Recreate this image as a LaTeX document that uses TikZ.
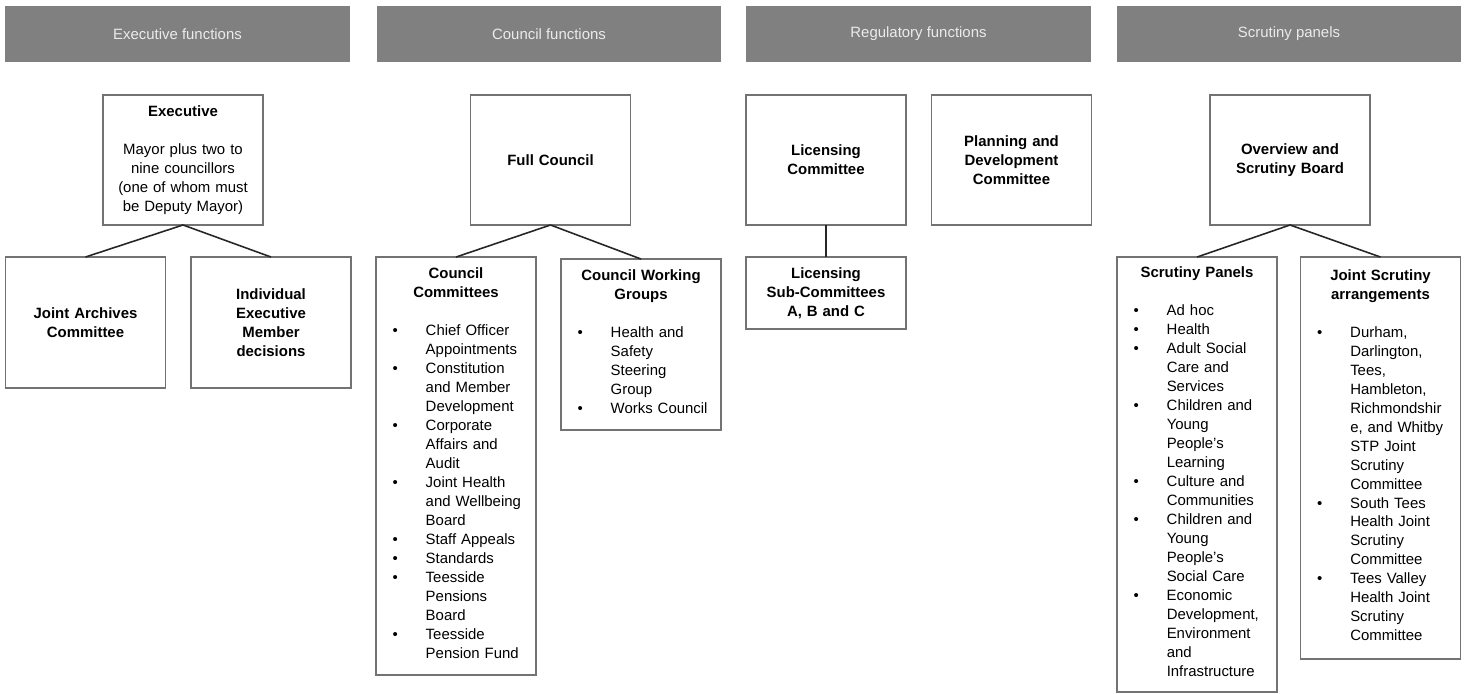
\documentclass[tikz,border=0pt]{standalone}
\usepackage{fontspec}
\setmainfont{Liberation Sans}
\usepackage{tikz}
\colorlet{hdrgray}{black!50}
\colorlet{boxgray}{black!55}
\newcommand{\blist}[1]{\makebox[3.2cm][l]{\begin{tabular}[t]{@{\hspace{0.33cm}}l@{\hspace{0.56cm}}l@{}}#1\end{tabular}}}
\tikzset{
  hdr/.style={fill=hdrgray,text=black!8,minimum width=6.9cm,minimum height=1.12cm,inner sep=0pt,outer sep=0pt,font=\fontsize{8.5}{10.8}\selectfont},
  box/.style={draw=boxgray,line width=0.8pt,fill=white,minimum width=3.2cm,text width=3.2cm,inner xsep=0pt,inner ysep=2pt,outer sep=0pt,align=center,font=\fontsize{8.5}{10.8}\selectfont},
  link/.style={black!85,line width=0.9pt}
}

\begin{document}
\begin{tikzpicture}[x=0.02cm,y=-0.02cm]
        \useasboundingbox (0,0) rectangle (1466,693);
        \node[hdr](hexec) at (177.5,34) {Executive functions};
        \node[hdr](hcoun) at (549,34) {Council functions};
        \node[hdr](hreg) at (918.5,34) {Regulatory functions};
        \node[hdr](hscr) at (1289,34) {Scrutiny panels};

        \node[box,minimum height=2.6cm](exec) at (183,160) {{\bfseries Executive}\\[10.8pt]Mayor plus two to\\nine councillors\\(one of whom must\\be Deputy Mayor)};
        \node[box,minimum height=2.6cm](full) at (550.5,160) {\bfseries Full Council};
        \node[box,minimum height=2.6cm](lic) at (826,160) {\bfseries Licensing\\Committee};
        \node[box,minimum height=2.6cm](plan) at (1011.5,160) {\bfseries Planning and\\Development\\Committee};
        \node[box,minimum height=2.6cm](osb) at (1290,160) {\bfseries Overview and\\Scrutiny Board};

        \node[box,minimum height=2.62cm](jac) at (85.5,322.5) {\bfseries Joint Archives\\Committee};
        \node[box,minimum height=2.62cm](iemd) at (271,322.5) {\bfseries Individual\\Executive\\Member\\decisions};
        \node[box,minimum height=8.36cm](cc) at (456,466) {{\bfseries Council\\Committees}\\[10.8pt]
          \blist{\textbullet & Chief Officer\\ & Appointments\\
            \textbullet & Constitution\\ & and Member\\ & Development\\
            \textbullet & Corporate\\ & Affairs and\\ & Audit\\
            \textbullet & Joint Health\\ & and Wellbeing\\ & Board\\
            \textbullet & Staff Appeals\\
            \textbullet & Standards\\
            \textbullet & Teesside\\ & Pensions\\ & Board\\
            \textbullet & Teesside\\ & Pension Fund}};
        \node[box,minimum height=3.42cm](cwg) at (641,344.5) {{\bfseries Council Working\\Groups}\\[10.8pt]
          \blist{\textbullet & Health and\\ & Safety\\ & Steering\\ & Group\\
            \textbullet & Works Council}};
        \node[box,minimum height=1.44cm](lsc) at (826,293) {\bfseries Licensing\\Sub-Committees\\A, B and C};
        \node[box,minimum height=8.7cm](sp) at (1197,474.5) {{\bfseries Scrutiny Panels}\\[10.8pt]
          \blist{\textbullet & Ad hoc\\
            \textbullet & Health\\
            \textbullet & Adult Social\\ & Care and\\ & Services\\
            \textbullet & Children and\\ & Young\\ & People’s\\ & Learning\\
            \textbullet & Culture and\\ & Communities\\
            \textbullet & Children and\\ & Young\\ & People’s\\ & Social Care\\
            \textbullet & Economic\\ & Development,\\ & Environment\\ & and\\ & Infrastructure}};
        \node[box,minimum height=8.04cm](jsa) at (1380.5,458) {{\bfseries Joint Scrutiny\\arrangements}\\[10.8pt]
          \blist{\textbullet & Durham,\\ & Darlington,\\ & Tees,\\ & Hambleton,\\ & Richmondshir\\ & e, and Whitby\\ & STP Joint\\ & Scrutiny\\ & Committee\\
            \textbullet & South Tees\\ & Health Joint\\ & Scrutiny\\ & Committee\\
            \textbullet & Tees Valley\\ & Health Joint\\ & Scrutiny\\ & Committee}};

        \draw[link](exec.south)--(jac.north);
        \draw[link](exec.south)--(iemd.north);
        \draw[link](full.south)--(cc.north);
        \draw[link](full.south)--(cwg.north);
        \draw[link](lic.south)--(lsc.north);
        \draw[link](osb.south)--(sp.north);
        \draw[link](osb.south)--(jsa.north);
    \end{tikzpicture}
\end{document}
